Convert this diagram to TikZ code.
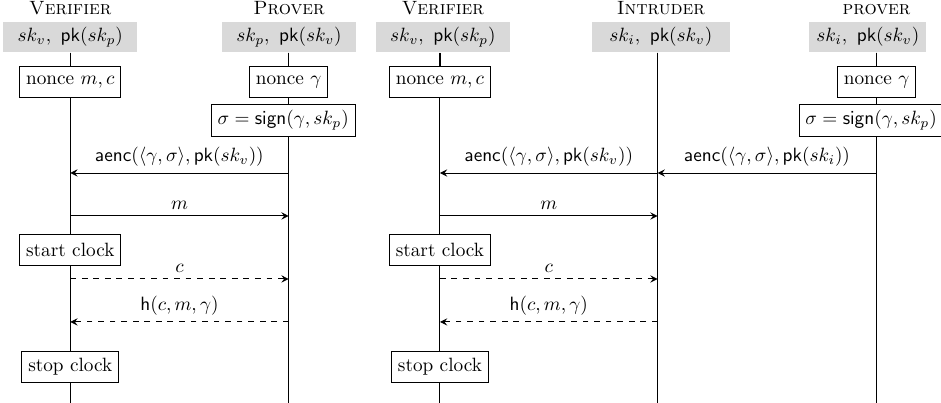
\documentclass[tikz,border=0pt]{standalone}
\usepackage{amsmath}
\usepackage{xcolor}
\usepackage{tikz}
\usetikzlibrary{arrows.meta,positioning}

\begin{document}
\begin{tikzpicture}[
    line width=0.5pt,
    node distance=5mm,
    >={Stealth[length=3.8pt,width=3.8pt,inset=1.4pt]},
    % 参与者的名字
    party/.style={font=\scshape},
    % 灰色的密钥框
    keys/.style={
        fill=black!15,
        minimum width=2.45cm,
        minimum height=0.55cm,
        inner sep=2pt},
    % 白色的动作框
    action/.style={
        draw,
        fill=white,
        minimum height=0.55cm},
    lifeline/.style={line width=0.5pt},
    stub/.style={thick},
    msg/.style={->},
    fastmsg/.style={->,dashed}]%快速交换阶段用虚线
  \useasboundingbox (0,0) rectangle (17.19,-7.36);
  % 生命线的位置
  \coordinate (V1) at (1.284,-7.36);
  \coordinate (P1) at (5.273,-7.36);
  \coordinate (V2) at (8.037,-7.36);
  \coordinate (I) at (12.013,-7.36);
  \coordinate (P2) at (16.013,-7.36);
  % 每一行的高度
  \coordinate (row nonce) at (0,-1.498);
  \coordinate (row sign) at (0,-2.201);
  \coordinate (row aenc) at (0,-3.160);
  \coordinate (row m) at (0,-3.945);
  \coordinate (row start) at (0,-4.566);
  \coordinate (row c) at (0,-5.096);
  \coordinate (row h) at (0,-5.881);
  \coordinate (row stop) at (0,-6.703);

  \node (V1-keys) [keys] at (1.284,-0.676) {$sk_v,~\mathsf{pk}(sk_p)$};
  \node (P1-keys) [keys] at (5.279,-0.676) {$sk_p,~\mathsf{pk}(sk_v)$};
  \node (V2-keys) [keys] at (8.091,-0.676) {$sk_v,~\mathsf{pk}(sk_p)$};
  \node (I-keys) [keys,minimum width=2.52cm] at (12.073,-0.676) {$sk_i,~\mathsf{pk}(sk_v)$};
  \node (P2-keys) [keys,minimum width=2.14cm] at (15.854,-0.676) {$sk_i,~\mathsf{pk}(sk_v)$};

  \node (V1-name) [party,above=0pt of V1-keys] {Verifier};
  \node (P1-name) [party,above=0pt of P1-keys] {Prover};
  \node (V2-name) [party,above=0pt of V2-keys] {Verifier};
  \node (I-name) [party,above=0pt of I-keys] {Intruder};
  \node (P2-name) [party,anchor=south] at (P2 |- P2-keys.north) {prover};

  \foreach \who in {V1,P1,V2,I,P2}{
    \draw[lifeline] (\who |- \who-keys.south) -- (\who);
    \draw[stub] (\who |- \who-keys.south) -- ++(0,-0.28);
  }

  % 左边：正常的协议
  \node (V1-nonce) [action] at (V1 |- row nonce) {nonce $m,c$};
  \node (P1-nonce) [action] at (P1 |- row nonce) {nonce $\gamma$};
  \node (P1-sign) [action,xshift=-0.1cm] at (P1 |- row sign) {$\sigma = \mathsf{sign}(\gamma, sk_p)$};
  \node (V1-start) [action] at (V1 |- row start) {start clock};
  \node (V1-stop) [action] at (V1 |- row stop) {stop clock};

  \draw[msg] (P1 |- row aenc) -- node[above] {$\mathsf{aenc}(\langle\gamma,\sigma\rangle, \mathsf{pk}(sk_v))$} (V1 |- row aenc);
  \draw[msg] (V1 |- row m) -- node[above] {$m$} (P1 |- row m);
  \draw[fastmsg] (V1 |- row c) -- node[above] {$c$} (P1 |- row c);
  \draw[fastmsg] (P1 |- row h) -- node[above] {$\mathsf{h}(c,m,\gamma)$} (V1 |- row h);

  % 右边：中间人攻击
  \node (V2-nonce) [action] at (V2 |- row nonce) {nonce $m,c$};
  \node (P2-nonce) [action] at (P2 |- row nonce) {nonce $\gamma$};
  \node (P2-sign) [action,xshift=-0.1cm] at (P2 |- row sign) {$\sigma = \mathsf{sign}(\gamma, sk_p)$};
  \node (V2-start) [action] at (V2 |- row start) {start clock};
  \node (V2-stop) [action] at (V2 |- row stop) {stop clock};

  \draw[msg] (P2 |- row aenc) -- node[above] {$\mathsf{aenc}(\langle\gamma,\sigma\rangle, \mathsf{pk}(sk_i))$} (I |- row aenc);
  \draw[msg] (I |- row aenc) -- node[above] {$\mathsf{aenc}(\langle\gamma,\sigma\rangle, \mathsf{pk}(sk_v))$} (V2 |- row aenc);
  \draw[msg] (V2 |- row m) -- node[above] {$m$} (I |- row m);
  \draw[fastmsg] (V2 |- row c) -- node[above] {$c$} (I |- row c);
  \draw[fastmsg] (I |- row h) -- node[above] {$\mathsf{h}(c,m,\gamma)$} (V2 |- row h);
\end{tikzpicture}
\end{document}
